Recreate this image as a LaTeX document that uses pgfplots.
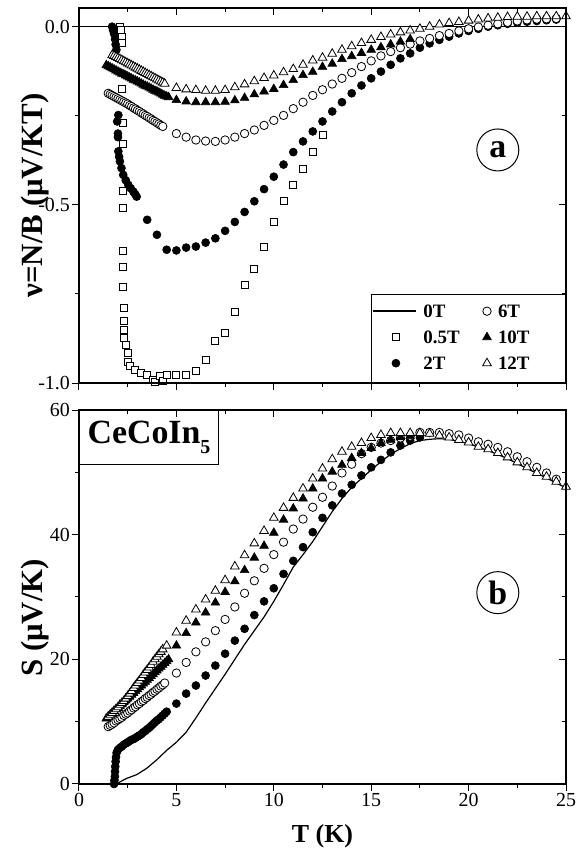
\documentclass[border=0pt]{standalone}
\usepackage{fontspec}
\setmainfont{Liberation Serif}
\usepackage{pgfplots}
\pgfplotsset{compat=1.18}

\pgfplotsset{
  panel/.style={scale only axis, width=487bp, xmin=0, xmax=25,
    xtick={0,5,10,15,20,25}, minor x tick num=1,
    major tick length=7bp, minor tick length=4bp,
    axis line style={line width=1.3bp},
    every tick/.style={black, line width=1bp},
    clip=false,
    tick label style={font=\fontsize{20}{20}\selectfont, inner sep=2bp}},
  mk/.style={only marks, black,
    legend image code/.code={\draw[##1] plot coordinates {(0bp,0bp)};}},
  zeroline/.style={black, mark=none, line width=1.5bp,
    legend image code/.code={\draw[##1] (-23bp,0bp) -- (20bp,0bp);}},
  sq/.style={mk, mark=square*, mark size=3.5bp, mark options={fill=white, draw=black, line width=0.8bp}},
  fc/.style={mk, mark=*, mark size=4bp, mark options={fill=black, draw=black, line width=0.6bp}},
  oc/.style={mk, mark=*, mark size=4.2bp, mark options={fill=white, draw=black, line width=0.8bp}},
  ft/.style={mk, mark=triangle*, mark size=5bp, mark options={fill=black, draw=black, line width=0.6bp}},
  ot/.style={mk, mark=triangle*, mark size=5bp, mark options={fill=white, draw=black, line width=0.8bp}},
}

\begin{document}
\begin{tikzpicture}

% ---------------- panel (a): nu = N/B ----------------
\begin{axis}[panel, name=ta, at={(0,0)}, anchor=south west, height=375bp,
  ymin=-1, ymax=0.0524, ytick={-1,-0.5,0}, yticklabels={-1.0,-0.5,0.0},
  minor y tick num=1, xticklabels={}, tick align=outside, tick pos=left,
  ylabel={ν=N/B (μV/KT)},
  ylabel style={font=\bfseries\fontsize{31}{31}\selectfont, at={(axis description cs:-0.09,0.5)}, anchor=center},
  legend columns=3, transpose legend, legend cell align=left,
  legend style={at={(0.6016,0.208)}, anchor=north west, draw=none, fill=none, inner sep=0bp,
    font=\bfseries\fontsize{19}{19}\selectfont,
    nodes={inner sep=0bp, text height=12bp, text depth=0bp},
    row sep=14bp, column sep=6.7bp,
    /tikz/every even column/.append style={column sep=23bp}},
]

% 0T
\addplot[zeroline] coordinates {(0,0) (25,0)};
\addlegendentry{0T}

% 0.5T
\addplot[sq] coordinates {
(2.12,0.00) (2.15,-0.01) (2.18,-0.03) (2.2,-0.045) (2.22,-0.175) (2.24,-0.27)
(2.25,-0.33) (2.25,-0.46) (2.26,-0.51) (2.26,-0.63) (2.27,-0.675) (2.27,-0.73)
(2.28,-0.79) (2.29,-0.825) (2.33,-0.85) (2.31,-0.873) (2.42,-0.892) (2.5,-0.915)
(2.5,-0.94) (2.6,-0.953) (2.85,-0.962) (3.2,-0.971) (3.5,-0.976) (3.8,-0.99)
(3.9,-0.998) (4.15,-0.98) (4.3,-0.993) (4.5,-0.976) (5.0,-0.976) (5.5,-0.976)
(6.0,-0.967) (6.5,-0.936) (7.0,-0.883) (7.5,-0.858) (8.0,-0.80) (8.5,-0.724)
(9.0,-0.68) (9.5,-0.617) (10.0,-0.548) (10.5,-0.49) (11.0,-0.444) (11.5,-0.40)
(12.0,-0.352) (12.5,-0.304)
};
\addlegendentry{0.5T}

% 2T
\addplot[fc] coordinates {
(1.70,0.00) (1.75,-0.01) (1.80,-0.02) (1.85,-0.035) (1.88,-0.05) (1.92,-0.065)
(2.02,-0.248) (1.96,-0.266) (2.0,-0.30) (2.0,-0.31) (2.02,-0.35) (2.06,-0.365)
(2.1,-0.378) (2.18,-0.397) (2.27,-0.416) (2.4,-0.431) (2.53,-0.444) (2.66,-0.454)
(2.79,-0.463) (2.88,-0.47) (2.96,-0.477)
(3.5,-0.542) (4.0,-0.584) (4.5,-0.626) (5.0,-0.628) (5.5,-0.62) (6.0,-0.617)
(6.5,-0.606) (7.0,-0.594) (7.5,-0.573) (8.0,-0.548) (8.5,-0.52) (9.0,-0.49)
(9.5,-0.456) (10.0,-0.421) (10.5,-0.387) (11.0,-0.352) (11.5,-0.322) (12.0,-0.294)
(12.5,-0.266) (13.0,-0.238) (13.5,-0.212) (14.0,-0.187) (14.5,-0.165) (15.0,-0.145)
(15.5,-0.126) (16.0,-0.107) (16.5,-0.089) (17.0,-0.075) (17.5,-0.059) (18.0,-0.047)
(18.5,-0.037) (19.0,-0.028) (19.5,-0.019) (20.0,-0.012) (20.5,-0.006) (21.0,0.0)
(21.5,0.004) (22.0,0.008) (22.5,0.011) (23.0,0.014) (23.5,0.016) (24.0,0.018) (24.5,0.02)
};
\addlegendentry{2T}

% 6T
\addplot[oc] coordinates {
(1.5,-0.187) (1.6,-0.190) (1.7,-0.193) (1.8,-0.196) (1.9,-0.199) (2.0,-0.202)
(2.1,-0.205) (2.2,-0.208) (2.3,-0.211) (2.4,-0.214) (2.5,-0.217) (2.6,-0.221)
(2.7,-0.224) (2.8,-0.228) (2.9,-0.231) (3.0,-0.235) (3.1,-0.238) (3.2,-0.242)
(3.3,-0.245) (3.4,-0.249) (3.5,-0.252) (3.6,-0.256) (3.7,-0.259) (3.8,-0.263)
(3.9,-0.266) (4.0,-0.270) (4.1,-0.273) (4.2,-0.277) (4.3,-0.280)
(5.0,-0.300) (5.5,-0.310) (6.0,-0.318) (6.5,-0.321) (7.0,-0.322) (7.5,-0.318)
(8.0,-0.31) (8.5,-0.30) (9.0,-0.29) (9.5,-0.277) (10.0,-0.263) (10.5,-0.249)
(11.0,-0.23) (11.5,-0.212) (12.0,-0.193) (12.5,-0.177) (13.0,-0.161) (13.5,-0.145)
(14.0,-0.129) (14.5,-0.112) (15.0,-0.096) (15.5,-0.082) (16.0,-0.07) (16.5,-0.059)
(17.0,-0.049) (17.5,-0.04) (18.0,-0.033) (18.5,-0.025) (19.0,-0.019) (19.5,-0.012)
(20.0,-0.006) (20.5,-0.001) (21.0,0.004) (21.5,0.008) (22.0,0.012) (22.5,0.016)
(23.0,0.019) (23.5,0.021) (24.0,0.022) (24.5,0.023)
};
\addlegendentry{6T}

% 10T
\addplot[ft] coordinates {
(1.4,-0.108) (1.5,-0.111) (1.6,-0.114) (1.7,-0.117) (1.8,-0.12) (1.9,-0.123)
(2.0,-0.126) (2.1,-0.129) (2.2,-0.132) (2.3,-0.134) (2.4,-0.137) (2.5,-0.140)
(2.6,-0.143) (2.7,-0.146) (2.8,-0.149) (2.9,-0.151) (3.0,-0.154) (3.1,-0.157)
(3.2,-0.160) (3.3,-0.163) (3.4,-0.166) (3.5,-0.168) (3.6,-0.171) (3.7,-0.174)
(3.8,-0.177) (3.9,-0.180) (4.0,-0.182) (4.1,-0.185) (4.2,-0.188) (4.3,-0.191)
(4.4,-0.194) (4.5,-0.196) (4.6,-0.198)
(5.0,-0.206) (5.5,-0.21) (6.0,-0.212) (6.5,-0.212) (7.0,-0.212) (7.5,-0.211)
(8.0,-0.207) (8.5,-0.20) (9.0,-0.19) (9.5,-0.182) (10.0,-0.175) (10.5,-0.164)
(11.0,-0.15) (11.5,-0.136) (12.0,-0.127) (12.5,-0.113) (13.0,-0.104) (13.5,-0.091)
(14.0,-0.083) (14.5,-0.074) (15.0,-0.065) (15.5,-0.058) (16.0,-0.05) (16.5,-0.042)
(17.0,-0.035)
};
\addlegendentry{10T}

% 12T
\addplot[ot] coordinates {
(1.7,-0.080) (1.8,-0.082) (1.9,-0.085) (2.0,-0.088) (2.1,-0.091) (2.2,-0.094)
(2.3,-0.097) (2.4,-0.100) (2.5,-0.103) (2.6,-0.106) (2.7,-0.109) (2.8,-0.112)
(2.9,-0.115) (3.0,-0.118) (3.1,-0.121) (3.2,-0.124) (3.3,-0.127) (3.4,-0.130)
(3.5,-0.133) (3.6,-0.136) (3.7,-0.139) (3.8,-0.142) (3.9,-0.145) (4.0,-0.148)
(4.1,-0.151) (4.2,-0.154) (4.3,-0.157) (4.4,-0.160)
(5.0,-0.172) (5.5,-0.176) (6.0,-0.178) (6.5,-0.18) (7.0,-0.18) (7.5,-0.178)
(8.0,-0.17) (8.5,-0.162) (9.0,-0.153) (9.5,-0.144) (10.0,-0.137) (10.5,-0.128)
(11.0,-0.119) (11.5,-0.107) (12.0,-0.095) (12.5,-0.087) (13.0,-0.076) (13.5,-0.065)
(14.0,-0.055) (14.5,-0.046) (15.0,-0.037) (15.5,-0.029) (16.0,-0.022) (16.5,-0.016)
(17.0,-0.011) (17.5,-0.006) (18.0,0.0) (18.5,0.006) (19.0,0.01) (19.5,0.013)
(20.0,0.017) (20.5,0.02) (21.0,0.023) (21.5,0.025) (22.0,0.027) (22.5,0.028)
(23.0,0.028) (23.5,0.029) (24.0,0.029) (24.5,0.029) (25.0,0.029)
};
\addlegendentry{12T}

% zero-field line again on top of the marks
\addplot[black, mark=none, line width=1.5bp, forget plot] coordinates {(0,0) (25,0)};

\draw[line width=1bp] (axis cs:15.04,-0.752) rectangle (axis cs:25,-1);
\node[circle, draw, line width=1bp, minimum size=42bp, inner sep=0bp,
  font=\bfseries\fontsize{34}{34}\selectfont] at (axis cs:21.5,-0.346) {a};
\end{axis}

% inward ticks on top and right of panel (a)
\begin{axis}[panel, at={(0,0)}, anchor=south west, height=375bp,
  ymin=-1, ymax=0.0524, ytick={-1,-0.5,0}, minor y tick num=1,
  xticklabels={}, yticklabels={}, tick align=inside, tick pos=right]
\end{axis}

% ---------------- panel (b): S ----------------
\begin{axis}[panel, at={(0,-27bp)}, anchor=north west, height=374bp,
  ymin=0, ymax=60, ytick={0,20,40,60}, yticklabels={0,20,40,60},
  minor y tick num=1, xticklabels={0,5,10,15,20,25},
  tick align=outside, tick pos=left,
  xlabel={T (K)},
  xlabel style={font=\bfseries\fontsize{26}{26}\selectfont, at={(axis description cs:0.5,-0.139)}, anchor=center},
  ylabel={S (μV/K)},
  ylabel style={font=\bfseries\fontsize{31}{31}\selectfont, at={(axis description cs:-0.09,0.444)}, anchor=center},
]

% 0T
\addplot[black, mark=none, line width=1.2bp] coordinates {
(1.93,0) (2.2,0.5) (2.45,0.9) (2.96,1.5) (3.47,2.5) (4.0,3.9) (4.5,5.4) (5.0,6.7)
(5.5,8.3) (6.0,10.6) (6.5,13.0) (7.0,15.3) (7.5,17.6) (8.0,20.0) (8.5,22.4)
(9.0,24.6) (9.5,26.8) (10.0,29.3) (10.5,32.0) (11.0,34.8) (11.5,36.8) (12.0,38.9)
(12.5,41.3) (13.0,43.7) (13.5,45.8) (14.0,47.6) (14.5,49.0) (15.0,50.4) (15.5,51.7)
(16.0,52.9) (16.5,53.8) (17.0,54.6) (17.5,55.1) (18.0,55.3) (18.5,55.4) (19.0,55.3)
(20.0,54.6) (21.0,53.5) (22.0,52.2) (23.0,50.6) (24.0,49.1) (25.0,47.5)
};

% 2T
\addplot[fc] coordinates {
(1.8,0.0) (1.82,0.6) (1.84,1.2) (1.85,2.0) (1.86,2.8) (1.88,3.6) (1.9,4.3) (1.93,5.0)
(2.0,5.5) (2.1,5.8) (2.2,6.0) (2.3,6.3) (2.4,6.5) (2.5,6.7) (2.6,6.9) (2.7,7.1)
(2.8,7.2) (2.9,7.4) (3.0,7.6) (3.1,7.8) (3.2,8.0) (3.3,8.3) (3.4,8.5) (3.5,8.8)
(3.6,9.0) (3.7,9.3) (3.8,9.6) (3.9,9.9) (4.0,10.2) (4.1,10.4) (4.2,10.7) (4.3,11.0)
(4.4,11.3) (4.5,11.6)
(5.0,12.9) (5.5,14.5) (6.0,15.8) (6.5,17.4) (7.0,19.0) (7.5,20.9) (8.0,23.0)
(8.5,24.9) (9.0,27.1) (9.5,29.3) (10.0,31.4) (10.5,33.7) (11.0,35.8) (11.5,38.0)
(12.0,40.4) (12.5,42.7) (13.0,44.7) (13.5,46.6) (14.0,48.0) (14.5,49.5) (15.0,50.8)
(15.5,52.0) (16.0,53.2) (16.5,54.3) (17.0,55.1) (17.5,55.6)
};

% 6T
\addplot[oc] coordinates {
(1.5,9.2) (1.6,9.4) (1.7,9.6) (1.8,9.8) (1.9,10.1) (2.0,10.3) (2.1,10.5) (2.2,10.7)
(2.3,11.0) (2.4,11.2) (2.5,11.4) (2.6,11.7) (2.7,11.9) (2.8,12.2) (2.9,12.4)
(3.0,12.7) (3.1,12.9) (3.2,13.2) (3.3,13.4) (3.4,13.7) (3.5,13.9) (3.6,14.2)
(3.7,14.4) (3.8,14.7) (3.9,14.9) (4.0,15.2) (4.1,15.4) (4.2,15.7) (4.3,15.9) (4.4,16.2)
(5.0,17.8) (5.5,19.5) (6.0,21.2) (6.5,22.8) (7.0,24.6) (7.5,26.4) (8.0,28.4)
(8.5,30.6) (9.0,32.6) (9.5,34.6) (10.0,36.8) (10.5,38.8) (11.0,40.9) (11.5,42.5)
(12.0,44.4) (12.5,46.0) (13.0,47.8) (13.5,49.9) (14.0,51.3) (14.5,53.0) (15.0,54.0)
(15.5,54.7) (16.0,55.1) (16.5,55.5) (17.0,55.8) (17.5,56.4) (18.0,56.4) (18.5,56.4)
(19.0,56.2) (19.5,56.0) (20.0,55.5) (20.5,54.9) (21.0,54.5) (21.5,54.0) (22.0,53.3)
(22.5,52.5) (23.0,51.7) (23.5,50.8) (24.0,49.9) (24.5,48.9)
};

% 10T
\addplot[ft] coordinates {
(1.4,10.5) (1.5,10.8) (1.6,11.1) (1.7,11.4) (1.8,11.7) (1.9,12.0) (2.0,12.2)
(2.1,12.5) (2.2,12.8) (2.3,13.1) (2.4,13.4) (2.5,13.7) (2.6,14.0) (2.7,14.3)
(2.8,14.6) (2.9,14.9) (3.0,15.2) (3.1,15.5) (3.2,15.8) (3.3,16.1) (3.4,16.4)
(3.5,16.7) (3.6,17.0) (3.7,17.3) (3.8,17.6) (3.9,17.9) (4.0,18.2) (4.1,18.5)
(4.2,18.8) (4.3,19.1) (4.4,19.4) (4.5,19.7) (4.6,20.0)
(5.0,22.2) (5.5,24.2) (6.0,25.9) (6.5,27.5) (7.0,29.1) (7.5,30.8) (8.0,32.5)
(8.5,34.3) (9.0,36.3) (9.5,38.2) (10.0,40.3) (10.5,42.4) (11.0,44.2) (11.5,45.8)
(12.0,47.4) (12.5,49.0) (13.0,50.1) (13.5,51.2) (14.0,52.3) (14.5,53.1) (15.0,53.9)
(15.5,54.7) (16.0,55.2) (16.5,55.6) (17.0,55.8)
};

% 12T
\addplot[ot] coordinates {
(1.5,10.8) (1.6,11.1) (1.7,11.4) (1.8,11.7) (1.9,12.0) (2.0,12.3) (2.1,12.7)
(2.2,13.0) (2.3,13.3) (2.4,13.7) (2.5,14.1) (2.6,14.5) (2.7,14.9) (2.8,15.4)
(2.9,15.8) (3.0,16.2) (3.1,16.6) (3.2,17.0) (3.3,17.5) (3.4,17.9) (3.5,18.3)
(3.6,18.7) (3.7,19.1) (3.8,19.6) (3.9,20.0) (4.0,20.4) (4.1,20.8) (4.2,21.2) (4.3,21.6)
(4.5,22.2) (5.0,24.3) (5.5,26.2) (6.0,28.0) (6.5,29.6) (7.0,31.0) (7.5,32.7)
(8.0,34.9) (8.5,36.7) (9.0,38.6) (9.5,40.6) (10.0,42.7) (10.5,44.3) (11.0,45.9)
(11.5,47.4) (12.0,49.0) (12.5,50.6) (13.0,52.1) (13.5,53.3) (14.0,54.1) (14.5,54.7)
(15.0,55.5) (15.5,56.0) (16.0,56.3) (16.5,56.3) (17.0,56.3) (17.5,56.3) (18.0,56.2)
(18.5,55.9) (19.0,55.6) (19.5,55.2) (20.0,54.8) (20.5,54.1) (21.0,53.7) (21.5,53.1)
(22.0,52.4) (22.5,51.6) (23.0,50.8) (23.5,49.9) (24.0,49.3) (24.5,48.5) (25.0,47.7)
};

\node[draw, line width=1bp, anchor=north west, minimum width=139bp, minimum height=54bp,
  inner sep=0bp, font=\bfseries\fontsize{34}{34}\selectfont]
  at (axis description cs:0,1) {CeCoIn\raisebox{-10bp}{\fontsize{20}{20}\selectfont 5}};
\node[circle, draw, line width=1bp, minimum size=42bp, inner sep=0bp,
  font=\bfseries\fontsize{34}{34}\selectfont] at (axis cs:21.5,30.7) {b};
\end{axis}

% inward ticks on top and right of panel (b)
\begin{axis}[panel, at={(0,-27bp)}, anchor=north west, height=374bp,
  ymin=0, ymax=60, ytick={0,20,40,60}, minor y tick num=1,
  xticklabels={}, yticklabels={}, tick align=inside, tick pos=right]
\end{axis}

\pgfresetboundingbox
\useasboundingbox (-79bp,-467bp) rectangle (500bp,383bp);
\end{tikzpicture}
\end{document}
